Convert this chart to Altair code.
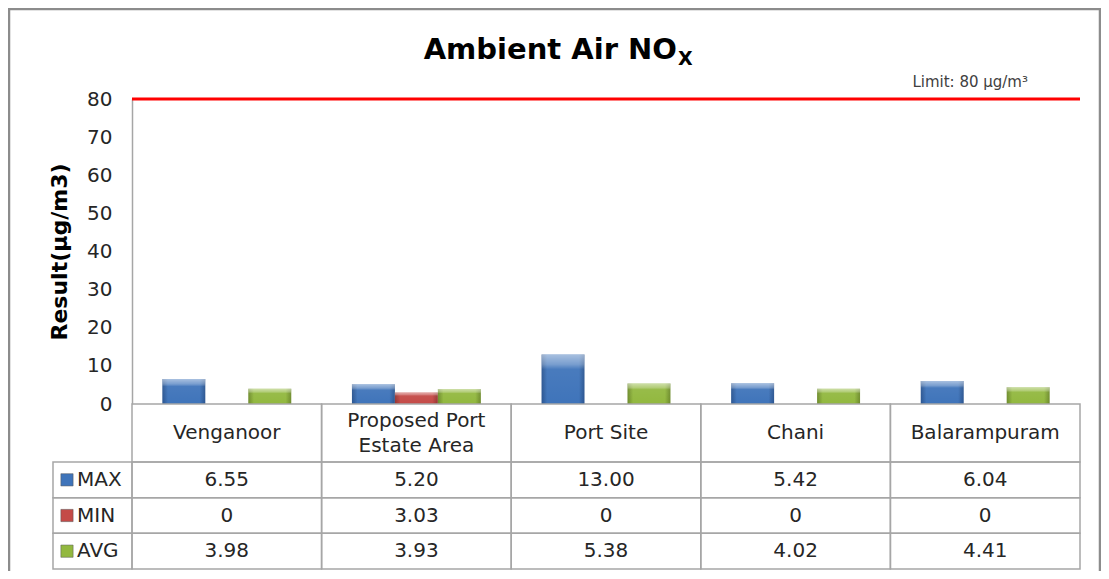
import altair as alt
import pandas as pd

# ---------------- data ----------------
categories = ["Venganoor", "Proposed Port\nEstate Area", "Port Site", "Chani", "Balarampuram"]
series = ["MAX", "MIN", "AVG"]
max_vals = [6.55, 5.20, 13.00, 5.42, 6.04]
min_vals = [0, 3.03, 0, 0, 0]
avg_vals = [3.98, 3.93, 5.38, 4.02, 4.41]
limit_value = [80]
y_ticks = [0, 10, 20, 30, 40, 50, 60, 70, 80]

title_main = "Ambient Air NO"
title_sub = "X"
y_title = "Result(µg/m3)"
limit_label = "Limit: 80 µg/m³"

# ---------------- tables ----------------
rows = []
for i, c in enumerate(categories):
    for s, vals in zip(series, [max_vals, min_vals, avg_vals]):
        rows.append(dict(category=c, series=s, value=vals[i], col=i, col2=i + 1, colc=i + 0.5))
df = pd.DataFrame(rows)
cat_df = pd.DataFrame({"category": categories, "col": list(range(len(categories)))})
cat_df["col2"] = cat_df["col"] + 1
cat_df["colc"] = cat_df["col"] + 0.5
cat_df["hdr"] = "h"
label_df = pd.DataFrame({"series": series})
limit_df = pd.DataFrame({"value": limit_value, "label": [limit_label]})

FONT = "DejaVu Sans"
GRID = "#a6a6a6"
TXT = "#262626"
LABEL_COL = -0.4167  # label column left edge, in column units

COLORS = {
    "MAX": dict(main="#3f74ba", dark="#2a548f"),
    "MIN": dict(main="#c44a47", dark="#943432"),
    "AVG": dict(main="#92b83f", dark="#6c8a2a"),
}

# ---------------- bars block ----------------
x_band = alt.X("category:N", scale=alt.Scale(domain=categories, paddingInner=0.32, paddingOuter=0.16), axis=None)
x_off = alt.XOffset("series:N", scale=alt.Scale(domain=series, paddingInner=0, paddingOuter=0))
y_bar = alt.Y(
    "value:Q",
    scale=alt.Scale(domain=[0, 80], range=[305, 0], nice=False, zero=True),
    axis=alt.Axis(
        values=y_ticks, grid=False, ticks=False, domainColor=GRID, domainWidth=1.5,
        labelFont=FONT, labelFontSize=20, labelColor=TXT, labelPadding=20,
        title=y_title, titleFont=FONT, titleFontSize=22, titleFontWeight="bold",
        titleColor="#000000", titlePadding=15,
    ),
)

layers = []

frame = alt.Chart(pd.DataFrame({"f": [0]})).mark_rect(
    fillOpacity=0, stroke="#8c8c8c", strokeWidth=2.5
).encode(x=alt.value(-123), x2=alt.value(968), y=alt.value(-90), y2=alt.value(520))
layers.append(frame)

title1 = alt.Chart(pd.DataFrame({"t": [title_main]})).mark_text(
    font=FONT, fontSize=29, fontWeight="bold", align="right", baseline="alphabetic", color="#000000"
).encode(x=alt.value(545), y=alt.value(-40), text="t:N")
title2 = alt.Chart(pd.DataFrame({"t": [title_sub]})).mark_text(
    font=FONT, fontSize=19, fontWeight="bold", align="left", baseline="alphabetic", color="#000000"
).encode(x=alt.value(546), y=alt.value(-34), text="t:N")
layers += [title1, title2]

for s in series:
    c = COLORS[s]
    base = alt.Chart(df).transform_filter(f"datum.series == '{s}' && datum.value > 0")
    main = base.mark_bar(
        color=alt.Gradient(
            gradient="linear", x1=0, x2=1, y1=0, y2=0,
            stops=[alt.GradientStop(offset=0, color=c["dark"]),
                   alt.GradientStop(offset=0.13, color=c["main"]),
                   alt.GradientStop(offset=0.87, color=c["main"]),
                   alt.GradientStop(offset=1, color=c["dark"])],
        )
    ).encode(x=x_band, xOffset=x_off, y=y_bar)
    shine = base.mark_bar(
        color=alt.Gradient(
            gradient="linear", x1=0, x2=0, y1=0, y2=1,
            stops=[alt.GradientStop(offset=0, color="rgba(255,255,255,0.55)"),
                   alt.GradientStop(offset=0.2, color="rgba(255,255,255,0.30)"),
                   alt.GradientStop(offset=0.3, color="rgba(255,255,255,0.05)"),
                   alt.GradientStop(offset=1, color="rgba(255,255,255,0)")],
        )
    ).encode(x=x_band, xOffset=x_off, y=y_bar)
    layers += [main, shine]

limit_rule = alt.Chart(limit_df).mark_rule(color="#ff0000", strokeWidth=3).encode(y=y_bar)
limit_text = alt.Chart(limit_df).mark_text(
    font=FONT, fontSize=15, align="right", baseline="alphabetic", dy=-12, color="#404040"
).encode(x=alt.value(896), y=y_bar, text="label:N")
layers += [limit_rule, limit_text]

bars_block = alt.layer(*layers)

# ---------------- header row ----------------
x_tab = alt.Scale(domain=[0, 5], nice=False, zero=False)
hdr_y = alt.Y("hdr:N", scale=alt.Scale(domain=["h"], range=[305, 363], paddingInner=0, paddingOuter=0), axis=None)
hdr_rect = alt.Chart(cat_df).mark_rect(fillOpacity=0, stroke=GRID, strokeWidth=1.5).encode(
    x=alt.X("col:Q", scale=x_tab, axis=None), x2="col2:Q", y=hdr_y
)
hdr_text_1 = alt.Chart(cat_df).transform_filter("indexof(datum.category, '\\n') < 0").mark_text(
    font=FONT, fontSize=20, color=TXT
).encode(x=alt.X("colc:Q", scale=x_tab, axis=None), y=hdr_y, text="category:N")
hdr_text_2 = alt.Chart(cat_df).transform_filter("indexof(datum.category, '\\n') >= 0").mark_text(
    font=FONT, fontSize=20, lineBreak="\n", lineHeight=25, dy=-12, color=TXT
).encode(x=alt.X("colc:Q", scale=x_tab, axis=None), y=hdr_y, text="category:N")
header_block = alt.layer(hdr_rect, hdr_text_1, hdr_text_2)

# ---------------- value rows ----------------
row_y = alt.Y("series:N", scale=alt.Scale(domain=series, range=[363, 470], paddingInner=0, paddingOuter=0), axis=None)
val_rect = alt.Chart(df).mark_rect(fillOpacity=0, stroke=GRID, strokeWidth=1.5).encode(
    x=alt.X("col:Q", scale=x_tab, axis=None), x2="col2:Q", y=row_y
)
val_text = alt.Chart(df).transform_calculate(
    label="datum.value == 0 ? '0' : format(datum.value, '.2f')"
).mark_text(font=FONT, fontSize=20, color=TXT).encode(
    x=alt.X("colc:Q", scale=x_tab, axis=None), y=row_y, text="label:N"
)
lab_rect = alt.Chart(label_df).mark_rect(fillOpacity=0, stroke=GRID, strokeWidth=1.5).encode(
    x=alt.X(datum=LABEL_COL, scale=x_tab, axis=None), x2=alt.X2(datum=0), y=row_y
)
lab_square = alt.Chart(label_df).mark_square(size=150, filled=True, opacity=1, xOffset=14, stroke="#555555", strokeWidth=0.5).encode(
    x=alt.X(datum=LABEL_COL, scale=x_tab, axis=None), y=row_y,
    color=alt.Color("series:N", scale=alt.Scale(domain=series, range=[COLORS[s]["main"] for s in series]), legend=None),
)
lab_text = alt.Chart(label_df).mark_text(font=FONT, fontSize=20, align="left", dx=24, color=TXT).encode(
    x=alt.X(datum=LABEL_COL, scale=x_tab, axis=None), y=row_y, text="series:N"
)
rows_block = alt.layer(val_rect, val_text, lab_rect, lab_square, lab_text)

chart = alt.layer(bars_block, header_block, rows_block).resolve_scale(
    x="independent", y="independent"
).properties(
    width=948, height=470,
    background="white",
    autosize=alt.AutoSizeParams(type="none"),
    padding={"left": 124, "top": 91, "right": 21, "bottom": 2},
).configure_view(stroke=None, strokeWidth=0)

chart.save("out.html", embed_options={"renderer": "svg", "actions": False})
